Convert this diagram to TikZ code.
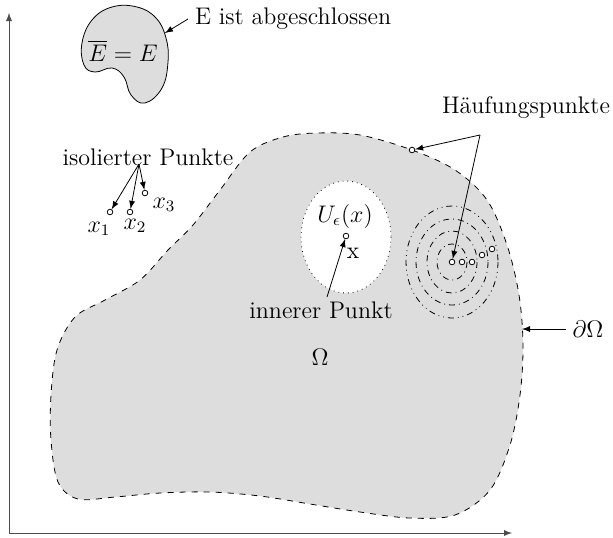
\documentclass[tikz,border=0pt]{standalone}
\usepackage{amsmath}
\definecolor{flaeche}{RGB}{221,221,221}
\begin{document}
\begin{tikzpicture}[>=latex, x=0.5pt, y=-0.5pt, font=\large,
    punkt/.style={circle, draw, fill=white, inner sep=0pt, minimum size=2.8pt},
    ring/.style={dash dot, line width=0.4pt}]
\useasboundingbox (0,0) rectangle (613,537);

% Achsen
\coordinate (o) at (9,533);
\coordinate (xend) at (512,533);
\coordinate (yend) at (9,13);
\draw[->, black!70] (o) -- (xend);
\draw[->, black!70] (o) -- (yend);

% abgeschlossene Menge E
\draw[fill=flaeche] plot[smooth cycle, tension=0.7] coordinates {
  (82,43) (92,20) (112,7) (137,7) (156,18) (166,38) (168,62) (162,88)
  (145,103) (131,95) (124,77) (112,68) (95,72) (84,65)};
\node (eq) at (123,51) {$\overline{E} = E$};
\node[anchor=west] (abg) at (188,19) {E ist abgeschlossen};
\coordinate (erand) at (165,33);
\draw[->] (abg.west) -- (erand);

% Gebiet Omega
\draw[dashed, fill=flaeche] plot[smooth cycle, tension=0.55] coordinates {
  (250,152) (283,137) (317,133) (360,135) (412,150) (455,170) (487,200)
  (507,245) (519,295) (523,345) (520,395) (510,445) (490,490) (455,515)
  (410,518) (360,512) (310,504) (260,496) (210,492) (160,493) (115,497)
  (78,499) (58,482) (51,440) (51,395) (57,350) (75,317) (105,300)
  (140,280) (168,250) (193,225) (220,190)};
\node (omega) at (320,357) {$\Omega$};

% innerer Punkt mit Umgebung
\draw[dotted, fill=white] (346,237) ellipse [x radius=45, y radius=56];
\node (ueps) at (345,216) {$U_\epsilon(x)$};
\node[punkt] (px) at (346,236) {};
\node (xlab) at (353,253) {x};
\node (inner) at (321,310) {innerer Punkt};
\coordinate (innerfuss) at (327,297);
\draw[->] (innerfuss) -- (px);

% isolierte Punkte
\node (iso) at (148,157) {isolierter Punkte};
\coordinate (isofuss) at (139,164);
\node[punkt] (p1) at (110,212) {};
\node[punkt] (p2) at (130,212) {};
\node[punkt] (p3) at (145,193) {};
\node (x1) at (99,229) {$x_1$};
\node (x2) at (135,226) {$x_2$};
\node (x3) at (164,205) {$x_3$};
\foreach \p in {p1,p2,p3}
  \draw[->] (isofuss) -- (\p);

% Haeufungspunkte
\draw[ring] (452,262) ellipse [x radius=15, y radius=18];
\draw[ring] (452,262) ellipse [x radius=25, y radius=31];
\draw[ring] (452,262) ellipse [x radius=36, y radius=43];
\draw[dash dot dot] (452,262) ellipse [x radius=46, y radius=56];
\node[punkt] (h0) at (452,262) {};
\node[punkt] (h1) at (462,262) {};
\node[punkt] (h2) at (472,262) {};
\node[punkt] (h3) at (482,255) {};
\node[punkt] (h4) at (492,249) {};
\node[punkt] (hrand) at (412,150) {};
\node (haeuf) at (526,108) {Häufungspunkte};
\coordinate (haeuffuss) at (480,135);
\draw[->] (haeuffuss) -- (hrand);
\draw[->] (haeuffuss) -- (h0);

% Rand
\node (rand) at (588,329) {$\partial\Omega$};
\coordinate (randpkt) at (522,329);
\draw[->] (rand.west) -- (randpkt);

\end{tikzpicture}
\end{document}
